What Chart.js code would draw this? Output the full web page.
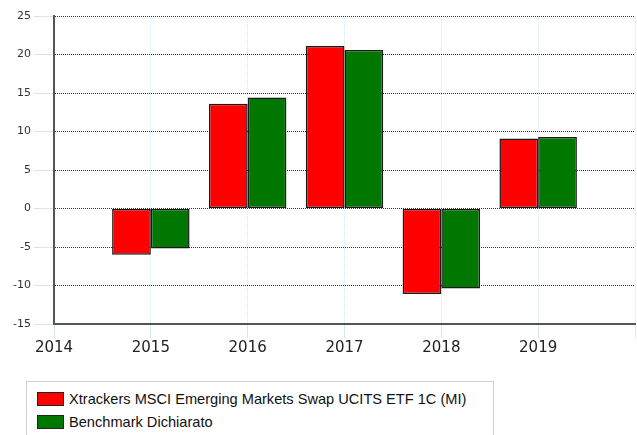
<!DOCTYPE html>
<html>
<head>
<meta charset="utf-8">
<script src="https://cdn.jsdelivr.net/npm/chart.js@4/dist/chart.umd.min.js"></script>
<style>
  body { margin: 0; background: #fff; }
  #wrap { position: relative; width: 637px; height: 435px; overflow: hidden; }
  #chartBox { position: absolute; left: 0; top: 0; width: 637px; height: 370px; }
  #legend {
    position: absolute; left: 26px; top: 381px; width: 466px; height: 70px;
    border: 1px solid #d4d4d4; font-family: "Liberation Sans", sans-serif; font-size: 14.6px; color: #111;
  }
  .item { position: absolute; left: 10px; height: 14px; line-height: 14px; white-space: nowrap; }
  .swatch { display: inline-block; width: 25px; height: 12px; border: 1px solid #222; vertical-align: top; margin-right: 5px; }
</style>
</head>
<body>
<div id="wrap">
  <div id="chartBox"><canvas id="perfChart" width="637" height="370"></canvas></div>
  <div id="legend"></div>
</div>
<script>
const years = [2015, 2016, 2017, 2018, 2019];
const fundReturns = [-6.0, 13.6, 21.1, -11.1, 9.1];
const benchReturns = [-5.2, 14.4, 20.6, -10.4, 9.3];
const seriesNames = ["Xtrackers MSCI Emerging Markets Swap UCITS ETF 1C (MI)", "Benchmark Dichiarato"];
const seriesColors = ["#ff0000", "#007700"];
const yTicks = [-15, -10, -5, 0, 5, 10, 15, 20, 25];
const xTickLabels = ["2014", "2015", "2016", "2017", "2018", "2019"];

const toPoints = vals => vals.map((v, i) => ({ x: years[i], y: v }));

const ctx = document.getElementById("perfChart").getContext("2d");

const chart = new Chart(ctx, {
  type: "bar",
  data: {
    datasets: [
      {
        label: seriesNames[0],
        data: toPoints(fundReturns),
        backgroundColor: seriesColors[0],
        borderColor: "#1a1a1a",
        borderWidth: 1.5,
        borderSkipped: false
      },
      {
        label: seriesNames[1],
        data: toPoints(benchReturns),
        backgroundColor: seriesColors[1],
        borderColor: "#1a1a1a",
        borderWidth: 1.5,
        borderSkipped: false
      }
    ]
  },
  options: {
    responsive: false,
    animation: false,
    categoryPercentage: 0.8,
    barPercentage: 1.0,
    layout: { padding: { top: 16, right: 2, left: 0, bottom: 0 } },
    plugins: {
      legend: { display: false },
      tooltip: { enabled: false }
    },
    scales: {
      x: {
        type: "linear",
        offset: false,
        min: 2014,
        max: 2020,
        afterBuildTicks: scale => {
          scale.ticks = [2014, 2015, 2016, 2017, 2018, 2019, 2020].map(v => ({ value: v }));
        },
        ticks: {
          autoSkip: false,
          maxRotation: 0,
          padding: 1,
          color: "#222",
          font: { family: "DejaVu Sans", size: 15 },
          callback: (v, i) => xTickLabels[i] || ""
        },
        grid: {
          offset: false,
          color: "#d6e6f6",
          tickColor: "#d6e6f6",
          tickLength: 14
        },
        border: { display: true, color: "#555", width: 2, dash: [1, 1] },
        afterFit: scale => { scale.height = 46; }
      },
      y: {
        min: -15,
        max: 25,
        afterBuildTicks: scale => {
          scale.ticks = yTicks.map(v => ({ value: v }));
        },
        ticks: {
          padding: 3,
          color: "#333",
          font: { family: "DejaVu Sans", size: 11 },
          callback: v => String(v)
        },
        grid: {
          color: "#333",
          tickColor: "#d6e6f6",
          tickLength: 20
        },
        border: { display: true, color: "#555", width: 2, dash: [1, 1] },
        afterFit: scale => { scale.width = 54; }
      }
    }
  }
});

// legend drawn as html under the canvas
const legendEl = document.getElementById("legend");
chart.data.datasets.forEach((ds, i) => {
  const row = document.createElement("div");
  row.className = "item";
  row.style.top = (10 + i * 23) + "px";
  row.innerHTML = '<span class="swatch" style="background:' + ds.backgroundColor + '"></span>' + ds.label;
  legendEl.appendChild(row);
});
</script>
</body>
</html>
